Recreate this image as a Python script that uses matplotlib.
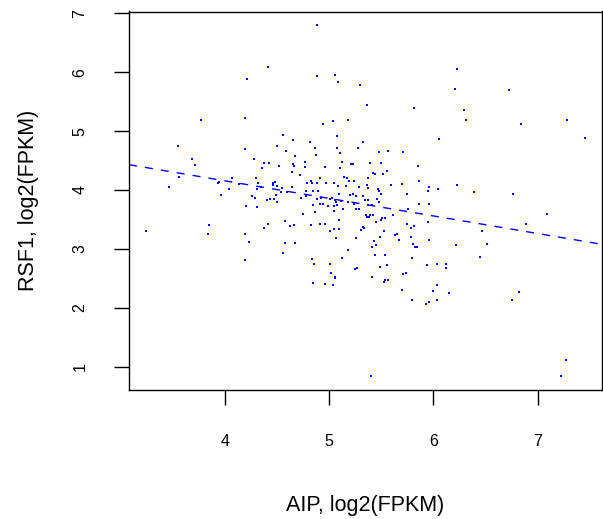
import matplotlib
matplotlib.use("Agg")
import matplotlib.pyplot as plt

plt.rcParams['font.family'] = ['Liberation Sans', 'DejaVu Sans']

aip = [4.886, 4.416, 4.214, 4.886, 5.059, 5.087, 5.298, 5.366, 3.773, 4.195,
       4.943, 5.039, 5.183, 4.56, 5.078, 6.23, 6.21, 6.73, 5.817, 6.297,
       6.316, 6.84, 7.285, 6.057, 7.458,
       3.552, 4.195, 4.50, 4.588, 3.686, 4.281, 4.377, 4.425, 3.715, 4.52,
       4.358, 3.561, 4.30, 4.07, 3.465, 3.936, 3.945, 4.137, 4.32, 4.464,
       4.483, 4.464, 4.502, 4.348, 4.31, 4.55, 4.54, 4.598, 4.04, 3.965,
       4.262, 4.29, 4.49, 4.406, 4.435, 4.473, 4.502, 4.204, 4.31, 4.579,
       3.849, 4.416, 4.377,
       4.655, 4.819, 5.078, 5.279, 5.327, 4.867, 5.48, 5.567, 4.675, 4.876,
       5.107, 4.77, 5.126, 5.206, 5.231, 5.394, 5.50, 4.655, 4.665, 4.77,
       4.963, 5.107, 4.646, 4.723, 4.915, 5.145, 5.174, 5.193, 5.241, 5.375,
       5.423, 5.442, 5.519, 5.557, 4.828, 4.79, 4.838, 4.886, 4.972, 5.049,
       5.087, 5.164, 5.289, 5.366, 5.375, 5.471, 5.481, 5.50, 4.646, 4.78,
       4.847, 4.895, 5.097, 5.202, 5.231, 5.26, 5.327, 4.78, 4.732, 4.886,
       4.924, 5.01, 5.03, 5.059, 5.068, 5.078, 5.116, 5.183, 5.241, 5.346,
       5.375, 5.375, 5.414, 5.462, 5.481, 5.26, 5.289, 4.847, 4.915, 4.943,
       4.991, 5.049, 5.135, 4.867, 5.049, 4.75, 5.356, 5.366, 5.385, 5.394,
       5.423, 5.51, 5.452, 5.50, 5.538, 4.627, 4.665, 4.828, 4.915, 4.963,
       5.049, 5.097, 5.327, 5.337,
       5.711, 5.855, 5.865, 5.597, 5.702, 5.961, 5.951, 6.047, 6.23, 6.393,
       6.767, 5.75, 5.865, 5.961, 5.759, 5.615, 5.75, 5.817, 5.788, 5.951,
       6.892, 7.093,
       3.245, 3.84, 4.195, 4.233, 4.195, 5.01, 5.097, 5.308, 4.579, 4.675,
       4.56, 5.068, 5.26, 5.183, 5.126, 4.838, 4.857, 5.01, 5.02, 5.059,
       5.059, 5.25, 5.27, 4.847, 4.963, 5.039,
       5.529, 5.654, 5.635, 5.788, 5.49, 5.673, 5.433, 5.414, 5.452, 5.807,
       5.827, 5.846, 5.961, 6.22, 6.47, 6.517, 6.45, 5.443, 5.538, 5.798,
       5.557, 5.49, 5.414, 5.942, 6.037, 6.124, 6.124, 5.711, 5.74, 5.538,
       5.529, 5.567, 5.702, 6.037, 5.999, 6.153, 5.798, 5.961, 5.932, 6.037,
       6.825, 6.757,
       5.404, 7.275, 7.227]

rsf1 = [6.80, 6.08, 5.88, 5.93, 5.95, 5.83, 5.79, 5.44, 5.18, 5.22,
        5.12, 5.17, 5.18, 4.93, 4.91, 6.05, 5.71, 5.69, 5.39, 5.35,
        5.18, 5.12, 5.18, 4.87, 4.88,
        4.74, 4.69, 4.74, 4.67, 4.52, 4.52, 4.45, 4.45, 4.42, 4.40,
        4.37, 4.22, 4.20, 4.20, 4.05, 4.11, 4.13, 4.10, 4.11, 4.11,
        4.13, 4.08, 4.06, 4.05, 4.01, 4.03, 3.96, 3.96, 4.01, 3.91,
        3.89, 3.86, 3.91, 3.83, 3.84, 3.84, 3.79, 3.72, 3.71, 3.47,
        3.40, 3.42, 3.35,
        4.84, 4.81, 4.72, 4.72, 4.81, 4.71, 4.64, 4.66, 4.57, 4.59,
        4.62, 4.47, 4.47, 4.44, 4.44, 4.45, 4.45, 4.44, 4.40, 4.39,
        4.39, 4.37, 4.30, 4.25, 4.20, 4.22, 4.20, 4.15, 4.16, 4.20,
        4.28, 4.27, 4.27, 4.33, 4.16, 4.11, 4.11, 4.11, 4.11, 4.11,
        4.06, 4.06, 4.05, 4.08, 4.03, 4.01, 3.98, 3.93, 4.05, 3.99,
        3.99, 3.99, 3.94, 3.91, 3.93, 3.89, 3.89, 3.89, 3.86, 3.84,
        3.86, 3.84, 3.86, 3.83, 3.79, 3.74, 3.81, 3.79, 3.77, 3.83,
        3.83, 3.74, 3.74, 3.84, 3.79, 3.67, 3.67, 3.74, 3.77, 3.77,
        3.72, 3.72, 3.67, 3.62, 3.64, 3.59, 3.57, 3.54, 3.54, 3.57,
        3.57, 3.52, 3.45, 3.49, 3.52, 3.38, 3.40, 3.40, 3.42, 3.42,
        3.33, 3.33, 3.37, 3.35,
        4.64, 4.40, 4.16, 4.08, 4.10, 4.05, 3.98, 4.01, 4.08, 3.96,
        3.93, 3.94, 3.77, 3.76, 3.67, 3.57, 3.42, 3.38, 3.35, 3.45,
        3.42, 3.59,
        3.30, 3.25, 3.25, 3.11, 2.81, 3.30, 3.49, 3.32, 3.10, 3.10,
        2.93, 3.18, 3.18, 2.98, 2.84, 2.82, 2.74, 2.74, 2.59, 2.53,
        2.51, 2.65, 2.67, 2.42, 2.40, 2.38,
        3.30, 3.26, 3.23, 3.21, 3.20, 3.15, 3.13, 3.04, 3.06, 3.08,
        3.03, 3.03, 3.15, 3.06, 3.30, 3.08, 2.87, 2.89, 2.89, 2.84,
        2.72, 2.69, 2.53, 2.72, 2.74, 2.74, 2.67, 2.57, 2.59, 2.47,
        2.43, 2.48, 2.31, 2.38, 2.28, 2.25, 2.13, 2.09, 2.06, 2.13,
        2.26, 2.13,
        0.84, 1.11, 0.85]

fit_intercept = 5.347
fit_slope = -0.298

x_ticks = [4, 5, 6, 7]
y_ticks = [1, 2, 3, 4, 5, 6, 7]

W, H = 603, 519
fig = plt.figure(figsize=(W / 100, H / 100), dpi=100)
ax = fig.add_axes([129 / W, 1 - 390 / H, (602 - 129) / W, (390 - 11.5) / H])

ax.plot(aip, rsf1, linestyle='none', marker='s', markersize=2.0,
        markerfacecolor='#0000ff', markeredgewidth=0, color='#0000ff')
ax.axline((0, fit_intercept), slope=fit_slope, color='#0000ff',
          linestyle=(0, (5.8, 5.8)), linewidth=1.0)

ax.set_xlim(3.079, 7.618)
ax.set_ylim(0.604, 7.03)
ax.set_xticks(x_ticks)
ax.set_yticks(y_ticks)
ax.set_xticklabels([str(v) for v in x_ticks])
ax.set_yticklabels([str(v) for v in y_ticks], rotation=90, va='center')
ax.tick_params(axis='both', direction='out', length=11, width=1.0,
               labelsize=11.5, color='black')
ax.tick_params(axis='x', pad=21)
ax.tick_params(axis='y', pad=19)
for s in ax.spines.values():
    s.set_linewidth(1.0)
    s.set_color('black')

ax.set_xlabel('AIP, log2(FPKM)', fontsize=15.5, labelpad=33)
ax.set_ylabel('RSF1, log2(FPKM)', fontsize=15.5, labelpad=24)

fig.savefig('out.png', dpi=100)
